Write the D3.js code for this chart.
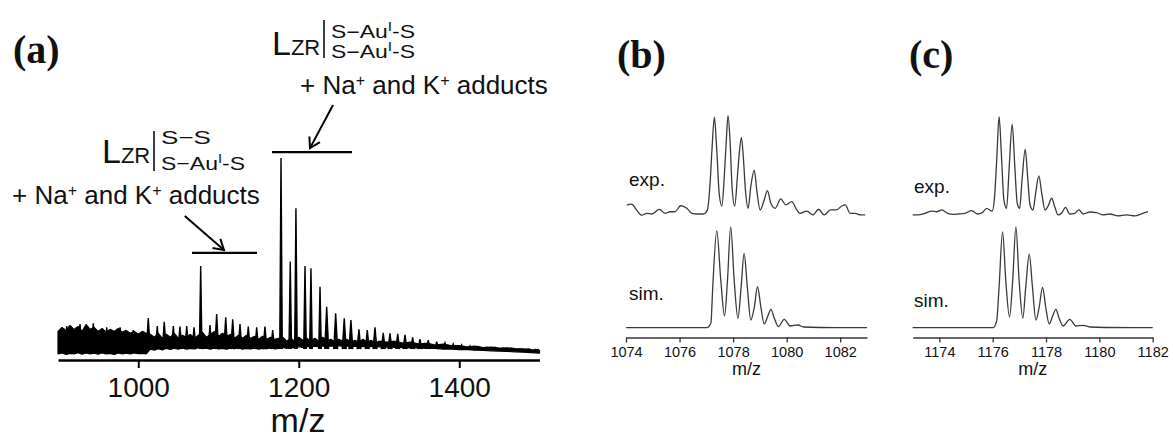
<!DOCTYPE html>
<html>
<head>
<meta charset="utf-8">
<script src="https://cdn.jsdelivr.net/npm/d3@7"></script>
<style>
  body { margin: 0; background: #fff; }
  svg { display: block; }
  text { font-family: "Liberation Sans", Arial, sans-serif; fill: #111; }
  .tag { font-family: "Liberation Serif", "Times New Roman", serif; font-weight: bold; font-size: 40px; }
</style>
</head>
<body>
<svg width="1173" height="439"></svg>
<script>
// ---- panel (a): survey spectrum, intensity in % of the tallest peak ----
var surveyTicks = [1000, 1200, 1400];
var surveyPeakMz = [910.8, 927.4, 944, 960.7, 977.3, 993.8, 1012.5, 1023.7, 1032.4, 1043.7, 1052, 1060.4, 1069.5,
  1077.8, 1089.4, 1097.7, 1109, 1117.7, 1126.8, 1137.1, 1147.6, 1157.9, 1167.5, 1177.9, 1189.4, 1196.5,
  1207.8, 1215.2, 1226.5, 1234.8, 1246, 1256.7, 1265, 1275, 1285.4, 1295, 1305.3, 1313.7, 1323.3, 1332.4,
  1341.9, 1351, 1361.4, 1371.9, 1382.2, 1392.5, 1403, 1413.4, 1423.7, 1434.2, 1444.5, 1454.9, 1465.3,
  1475.7, 1486, 1496.5];
var surveyPeakInt = [14.7, 15.7, 16.1, 14.1, 14.1, 12.7, 18.8, 14.7, 16.9, 14.7, 14.4, 14.7, 14.1,
  45.2, 15.2, 20.8, 19.1, 18.1, 15.7, 14.4, 14.1, 14.4, 12.7, 100, 47.4, 74.5,
  45.2, 44.0, 34.7, 24.5, 21.2, 18.6, 17.8, 13.0, 12.7, 14.1, 11.3, 11.0, 10.7, 10.2,
  9.0, 8.0, 7.6, 6.8, 6.2, 5.6, 5.1, 4.6, 4.2, 3.9, 3.9, 3.4, 3.4,
  2.9, 2.9, 2.5];
// noise band envelope: every 5 m/z up to 1300, then every 10
var noiseMz = d3.range(900, 1301, 5).concat(d3.range(1310, 1501, 10));
var noiseTop = [
  12, 14, 12.5, 15, 13, 14.5, 12, 15.5, 13, 14, 12, 13.5, 11.5, 13, 12, 13.5, 11.5, 12.5, 11, 12, 10.5, 12, 11,
  10.5, 9, 11, 8.5, 10.5, 9, 11, 8.5, 10, 9, 10.5, 8.5, 10, 11.5, 9, 10.5, 12, 9.5, 11, 9.5, 10.5, 8.5, 10, 8.5, 10, 8.5, 9.5, 8, 9.5, 8, 9, 8, 8.5,
  9, 7, 8.5, 7, 9, 7.5, 8.5, 7, 8.5, 7, 9, 7, 8, 6.5, 8, 7, 8, 6.5, 7.5, 6.5, 8, 6.5, 7.5, 6, 7,
  6.5, 7, 6, 6.5, 5.5, 6, 5, 5.5, 4.8, 4.8, 4.2, 4.5, 3.8, 4, 3.5, 3.6, 3.2, 3.1, 2.7, 2.4];
var noiseBottom = [
  0.5, 1, 0.3, 0.8, 0.5, 1.2, 0.4, 1, 0.6, 0.9, 0.4, 1, 0.5, 0.8, 0.3, 1, 0.6, 0.9, 0.5, 1, 0.7, 0.8, 0.6,
  3, 2.5, 3.2, 2.6, 3.4, 2.8, 3.5, 3, 3.6, 2.9, 3.4, 3.1, 3.7, 3.2, 3.5, 3, 3.6, 3.1, 3.4, 2.9, 3.5, 3.2, 3.6, 3, 3.3, 3.1, 3.5, 3, 3.4, 3.2, 3.6, 3.1, 3.4,
  3.8, 3.4, 4, 3.6, 4.2, 3.8, 4.4, 4, 4.5, 4.1, 4.6, 4.2, 4.6, 4.3, 4.7, 4.4, 4.6, 4.3, 4.5, 4.2, 4.4, 4.1, 4.3, 4, 4.2,
  4, 3.8, 3.9, 3.6, 3.6, 3.3, 3.3, 3, 3, 2.7, 2.7, 2.4, 2.3, 2.1, 2, 1.8, 1.6, 1.4, 1.2, 1];

// ---- panel (b): m/z 1074-1083 ----
var ticksB = [1074, 1076, 1078, 1080, 1082];
var expBMz = [1074.03, 1074.21, 1074.40, 1074.59, 1074.77, 1074.96, 1075.25, 1075.46, 1075.64, 1075.83, 1076.04,
  1076.27, 1076.46, 1076.64, 1076.89, 1077.04, 1077.14, 1077.21, 1077.30, 1077.39, 1077.48, 1077.58, 1077.67,
  1077.74, 1077.81, 1077.89, 1077.96, 1078.06, 1078.16, 1078.23, 1078.31, 1078.38, 1078.46, 1078.56, 1078.66,
  1078.79, 1078.89, 1079.01, 1079.16, 1079.28, 1079.41, 1079.57, 1079.78, 1079.97, 1080.19, 1080.38, 1080.50,
  1080.75, 1080.98, 1081.19, 1081.40, 1081.63, 1081.85, 1082.06, 1082.19, 1082.37, 1082.56, 1082.75, 1082.93];
var expBInt = [8.2, 9.3, 3.2, -1.9, 0, -0.7, 3.9, 0, 1.6, 1.6, 7.7,
  5.1, 0, -0.7, -0.7, 3.4, 30.5, 64.4, 97.7, 64.4, 20.3, 7.4, 37.2,
  71.2, 99.3, 71.2, 27, 7.4, 37.2, 61, 77.3, 57.6, 23.7, 5.1, 27,
  44, 22, 3.4, 13.5, 23, 10.2, 5.1, 14.6, 8.5, 11.8, 3.4, 0,
  2.3, -1.7, 4.1, -1.7, 3.4, 3.4, 7.4, 8.5, 0, 0, -1.7, -1.7];
var simBMz = [1074, 1077.02, 1077.17, 1077.24, 1077.39, 1077.54, 1077.68, 1077.79, 1077.91, 1078.04, 1078.18,
  1078.30, 1078.41, 1078.53, 1078.66, 1078.79, 1078.91, 1079.04, 1079.16, 1079.29, 1079.41, 1079.54, 1079.69,
  1079.91, 1080.13, 1080.42, 1080.63, 1081.25, 1083];
var simBInt = [0, 0, 4.4, 40.6, 96, 47, 11.6, 47, 100, 47, 9.3,
  40.6, 73.7, 40.6, 7.6, 20, 40.6, 20, 3.7, 11, 18.2, 9.3, 1.0,
  8.3, 1.7, 2.7, 0.7, 0.2, 0];

// ---- panel (c): m/z 1173-1182 ----
var ticksC = [1174, 1176, 1178, 1180, 1182];
var expCMz = [1173.0, 1173.21, 1173.46, 1173.71, 1173.90, 1174.09, 1174.31, 1174.52, 1174.71, 1174.96, 1175.21,
  1175.43, 1175.61, 1175.77, 1175.98, 1176.06, 1176.15, 1176.24, 1176.33, 1176.42, 1176.52, 1176.62, 1176.73,
  1176.83, 1176.92, 1177.01, 1177.10, 1177.22, 1177.31, 1177.40, 1177.51, 1177.61, 1177.73, 1177.84, 1177.96,
  1178.08, 1178.21, 1178.33, 1178.45, 1178.58, 1178.73, 1178.89, 1179.08, 1179.23, 1179.39, 1179.64, 1179.89,
  1180.14, 1180.39, 1180.70, 1181.01, 1181.33, 1181.58, 1181.82];
var expCInt = [-1.7, -1.7, 0, 2.3, 1.6, 3.4, 0, -1, -0.7, 0, 2.7,
  -0.7, 0.7, 5.1, 2.3, 13.5, 54, 98.3, 57.6, 13.5, 5.1, 47.4, 90.8,
  47.4, 10.2, 5.1, 33.9, 65, 37.2, 8.5, 3.4, 20.3, 38, 20.3, 3.4,
  7.4, 15.3, 6.4, -1.7, 0, 6.1, -0.7, 0, 3.4, -0.7, 1.3, 0.7,
  -1.7, -0.7, -2.7, -1.7, -2.7, -0.7, 1.6];
var simCMz = [1173, 1176.02, 1176.15, 1176.24, 1176.37, 1176.49, 1176.63, 1176.75, 1176.87, 1176.99, 1177.13,
  1177.24, 1177.37, 1177.49, 1177.62, 1177.74, 1177.87, 1177.99, 1178.12, 1178.24, 1178.37, 1178.49, 1178.64,
  1178.89, 1179.12, 1179.39, 1179.64, 1180.26, 1182];
var simCInt = [0, 0, 7, 40.6, 95, 47, 10.6, 47, 100, 47, 9.6,
  40.6, 73, 40.6, 7.6, 20, 40, 20, 3.7, 11, 18.2, 9.3, 1.7,
  8.3, 1.7, 2.3, 0.7, 0.2, 0];

var svg = d3.select('svg');

function zip(xs, ys) { return xs.map(function(v, i) { return {mz: v, y: ys[i]}; }); }

// text with superscripts: parts are strings or {t, size}
function richText(g, x, y, size, parts, len) {
  var t = g.append('text').attr('x', x).attr('y', y).style('font-size', size + 'px');
  if (len) t.attr('textLength', len).attr('lengthAdjust', 'spacingAndGlyphs');
  parts.forEach(function(p) {
    if (typeof p === 'string') t.append('tspan').text(p);
    else t.append('tspan').attr('baseline-shift', 'super').style('font-size', p.size + 'px').text(p.t);
  });
  return t;
}

// ================= panel (a) =================
var xA = d3.scaleLinear().domain([900, 1500]).range([58, 539.5]);
var yA = d3.scaleLinear().domain([0, 100]).range([355, 158]);

var gA = svg.append('g');

var noise = noiseMz.map(function(m, i) { return {mz: m, lo: noiseBottom[i], hi: noiseTop[i]}; });
gA.append('path')
  .datum(noise)
  .attr('d', d3.area().x(function(d) { return xA(d.mz); })
    .y0(function(d) { return yA(d.lo); })
    .y1(function(d) { return yA(d.hi); }))
  .attr('fill', '#000').attr('stroke', '#000').attr('stroke-width', 1.2).attr('stroke-linejoin', 'bevel');

// each peak drawn as a thin spike rising out of the noise band
var spike = d3.line();
gA.selectAll('.spike')
  .data(zip(surveyPeakMz, surveyPeakInt))
  .enter().append('path')
  .attr('class', 'spike')
  .attr('d', function(d) {
    var w = d.y > 30 ? 1.6 : 2.4;
    return spike([[xA(d.mz - w), yA(3)], [xA(d.mz), yA(d.y)], [xA(d.mz + w), yA(3)]]);
  })
  .attr('fill', '#000').attr('stroke', '#000').attr('stroke-width', 1.4).attr('stroke-linejoin', 'miter');

var axisA = gA.append('g')
  .attr('transform', 'translate(0,360)')
  .call(d3.axisBottom(xA).tickValues(surveyTicks).tickSize(8).tickSizeOuter(0).tickPadding(9)
    .tickFormat(d3.format('d')));
axisA.select('.domain').attr('stroke', '#000').attr('stroke-width', 2.5);
axisA.selectAll('.tick line').attr('stroke', '#000').attr('stroke-width', 2);
axisA.selectAll('.tick text').style('font-size', '28px').attr('fill', '#111');

gA.append('text').attr('x', 298).attr('y', 432).attr('text-anchor', 'middle')
  .style('font-size', '34px').text('m/z');

svg.append('text').attr('class', 'tag').attr('x', 13).attr('y', 63).text('(a)');

// annotation bars and arrows (in data coordinates)
svg.append('defs').append('marker')
  .attr('id', 'head').attr('markerUnits', 'userSpaceOnUse')
  .attr('markerWidth', 16).attr('markerHeight', 16)
  .attr('refX', 0).attr('refY', 0).attr('viewBox', '-12 -8 14 16')
  .attr('orient', 'auto')
  .append('path').attr('d', 'M-10,-6 L0,0 L-10,6')
  .attr('fill', 'none').attr('stroke', '#000').attr('stroke-width', 2);

function bar(m0, m1, v) {
  gA.append('line').attr('x1', xA(m0)).attr('x2', xA(m1)).attr('y1', yA(v)).attr('y2', yA(v))
    .attr('stroke', '#000').attr('stroke-width', 2.2);
}
function arrow(m0, v0, m1, v1) {
  gA.append('line').attr('x1', xA(m0)).attr('y1', yA(v0)).attr('x2', xA(m1)).attr('y2', yA(v1))
    .attr('stroke', '#000').attr('stroke-width', 2).attr('marker-end', 'url(#head)');
}
bar(1067, 1148, 51.8);
arrow(1058, 70.6, 1106.8, 53.3);
bar(1166.7, 1266.4, 103);
arrow(1242.7, 126.9, 1214, 105);

// label for the S-S / S-Au-S species
var lab1 = svg.append('g');
richText(lab1, 102, 163, 34, ['L']).append('tspan').style('font-size', '22px').text('ZR');
lab1.append('line').attr('x1', 154).attr('x2', 154).attr('y1', 131).attr('y2', 171).attr('stroke', '#000').attr('stroke-width', 1.5);
richText(lab1, 161, 144, 19, ['S\u2212S'], 50);
richText(lab1, 161, 170, 19, ['S\u2212Au', {t: 'I', size: 12}, '-S'], 84);
richText(lab1, 12, 204, 26, ['+ Na', {t: '+', size: 16}, ' and K', {t: '+', size: 16}, ' adducts']);

// label for the (S-Au-S)2 species
var lab2 = svg.append('g');
richText(lab2, 272, 55, 34, ['L']).append('tspan').style('font-size', '22px').text('ZR');
lab2.append('line').attr('x1', 324).attr('x2', 324).attr('y1', 20).attr('y2', 58).attr('stroke', '#000').attr('stroke-width', 1.5);
richText(lab2, 331, 37.5, 18, ['S\u2212Au', {t: 'I', size: 12}, '-S'], 84);
richText(lab2, 331, 57.5, 18, ['S\u2212Au', {t: 'I', size: 12}, '-S'], 84);
richText(lab2, 300, 94, 26, ['+ Na', {t: '+', size: 16}, ' and K', {t: '+', size: 16}, ' adducts']);

// ================= panels (b) and (c) =================
function isotopePanel(cfg) {
  var x = d3.scaleLinear().domain(cfg.domain).range(cfg.range);
  var yExp = d3.scaleLinear().domain([0, 100]).range([213.3, 115]);
  var ySim = d3.scaleLinear().domain([0, 100]).range([327.7, 226.8]);
  var g = svg.append('g');

  g.append('path').datum(zip(cfg.expMz, cfg.expInt))
    .attr('d', d3.line().curve(d3.curveMonotoneX)
      .x(function(d) { return x(d.mz); }).y(function(d) { return yExp(d.y); }))
    .attr('fill', 'none').attr('stroke', '#3a3a3a').attr('stroke-width', 1.3);

  g.append('path').datum(zip(cfg.simMz, cfg.simInt))
    .attr('d', d3.line().curve(d3.curveMonotoneX)
      .x(function(d) { return x(d.mz); }).y(function(d) { return ySim(d.y); }))
    .attr('fill', 'none').attr('stroke', '#3a3a3a').attr('stroke-width', 1.3);

  var ax = g.append('g').attr('transform', 'translate(0,337.5)')
    .call(d3.axisBottom(x).tickValues(cfg.ticks).tickSize(5).tickSizeOuter(0).tickPadding(4).tickFormat(d3.format('d')));
  ax.select('.domain').attr('stroke', '#333').attr('stroke-width', 1.3);
  ax.selectAll('.tick line').attr('stroke', '#333').attr('stroke-width', 1.3);
  ax.selectAll('.tick text').style('font-size', '14.5px').attr('fill', '#222');

  g.append('text').attr('x', (cfg.range[0] + cfg.range[1]) / 2).attr('y', 375)
    .attr('text-anchor', 'middle').style('font-size', '18px').text('m/z');
  g.append('text').attr('x', cfg.labelX).attr('y', cfg.expLabelY).style('font-size', '19px').text('exp.');
  g.append('text').attr('x', cfg.labelX).attr('y', cfg.simLabelY).style('font-size', '19px').text('sim.');
  svg.append('text').attr('class', 'tag').attr('x', cfg.tagX).attr('y', 68).text(cfg.tag);
}

isotopePanel({domain: [1074, 1083], range: [626, 867], ticks: ticksB,
  expMz: expBMz, expInt: expBInt, simMz: simBMz, simInt: simBInt,
  labelX: 629, expLabelY: 186, simLabelY: 300, tagX: 617, tag: '(b)'});
isotopePanel({domain: [1173, 1182], range: [912.7, 1152.7], ticks: ticksC,
  expMz: expCMz, expInt: expCInt, simMz: simCMz, simInt: simCInt,
  labelX: 914, expLabelY: 193, simLabelY: 307, tagX: 909, tag: '(c)'});
</script>
</body>
</html>
